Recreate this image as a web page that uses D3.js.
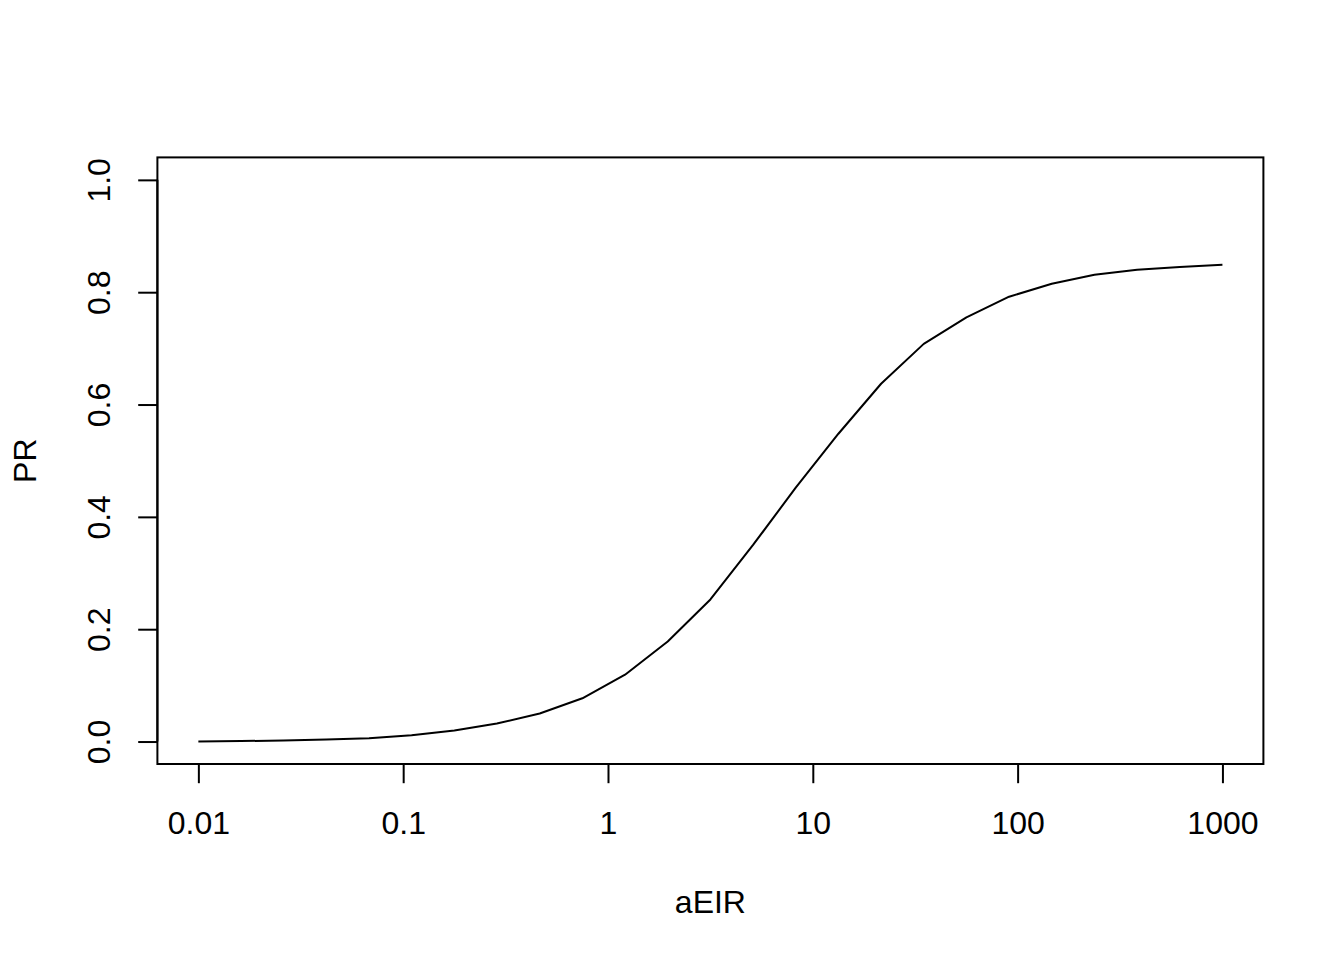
<!DOCTYPE html>
<html>
<head>
<meta charset="utf-8">
<script src="https://cdn.jsdelivr.net/npm/d3@7"></script>
<style>
  html, body { margin: 0; padding: 0; background: #fff; }
  svg { display: block; }
  text { font-family: "Liberation Sans", Arial, Helvetica, sans-serif; fill: #000; }
</style>
</head>
<body>
<svg id="chart" width="1344" height="960"></svg>
<script>
// aEIR values: 25 points evenly spaced on log scale from 0.01 to 1000
const aEIR = [
  0.01, 0.01613, 0.02601, 0.04217, 0.06813, 0.1099, 0.1778, 0.2868, 0.4642,
  0.7499, 1.2115, 1.9573, 3.1623, 5.1090, 8.2540, 13.335, 21.544, 34.807,
  56.234, 90.851, 146.78, 237.14, 383.12, 618.97, 1000
];
const PR = [
  0.000, 0.0008, 0.002, 0.0035, 0.006, 0.011, 0.0196, 0.032, 0.050,
  0.077, 0.119, 0.178, 0.253, 0.350, 0.452, 0.548, 0.637, 0.708,
  0.755, 0.792, 0.815, 0.831, 0.840, 0.845, 0.849
];
const xTicks = [0.01, 0.1, 1, 10, 100, 1000];
const xTickLabels = ["0.01", "0.1", "1", "10", "100", "1000"];
const yTicks = [0.0, 0.2, 0.4, 0.6, 0.8, 1.0];
const yTickLabels = ["0.0", "0.2", "0.4", "0.6", "0.8", "1.0"];

const svg = d3.select("#chart");
const mLeft = 157.4, mRight = 1263.4, mTop = 157.4, mBottom = 764;

const x = d3.scaleLog().domain([Math.pow(10, -2.2), Math.pow(10, 3.2)]).range([mLeft, mRight]);
const y = d3.scaleLinear().domain([-0.04, 1.04]).range([mBottom, mTop]);

const lw = 2;
const fs = 32;
const tick = 19.2;

// box
svg.append("rect")
  .attr("x", mLeft).attr("y", mTop)
  .attr("width", mRight - mLeft).attr("height", mBottom - mTop)
  .attr("fill", "none").attr("stroke", "#000").attr("stroke-width", lw);

// x axis
const xAxis = d3.axisBottom(x)
  .tickValues(xTicks)
  .tickFormat((d, i) => xTickLabels[i])
  .tickSize(tick);
const gx = svg.append("g").attr("transform", `translate(0,${mBottom})`).call(xAxis);
gx.select(".domain").attr("d", `M${x(xTicks[0])},0H${x(xTicks[xTicks.length-1])}`)
  .attr("stroke", "#000").attr("stroke-width", lw);
gx.selectAll(".tick line").attr("stroke", "#000").attr("stroke-width", lw);
gx.selectAll(".tick text")
  .attr("font-size", fs).attr("font-family", "Liberation Sans, Arial, sans-serif")
  .attr("fill", "#000")
  .attr("dy", null)
  .attr("y", 59)
  .attr("dominant-baseline", "central");

// y axis
const yAxis = d3.axisLeft(y)
  .tickValues(yTicks)
  .tickFormat((d, i) => yTickLabels[i])
  .tickSize(tick)
  .tickPadding(0);
const gy = svg.append("g").attr("transform", `translate(${mLeft},0)`).call(yAxis);
gy.select(".domain").attr("d", `M0,${y(yTicks[0])}V${y(yTicks[yTicks.length-1])}`)
  .attr("stroke", "#000").attr("stroke-width", lw);
gy.selectAll(".tick line").attr("stroke", "#000").attr("stroke-width", lw);
gy.selectAll(".tick text")
  .attr("font-size", fs).attr("font-family", "Liberation Sans, Arial, sans-serif")
  .attr("fill", "#000")
  .attr("x", 0).attr("dy", null).attr("y", 0)
  .attr("text-anchor", "middle")
  .attr("dominant-baseline", "central")
  .attr("transform", "translate(-58,0) rotate(-90)");

// line
const line = d3.line().x((d, i) => x(aEIR[i])).y(d => y(d));
svg.append("path")
  .datum(PR)
  .attr("d", line)
  .attr("fill", "none")
  .attr("stroke", "#000")
  .attr("stroke-width", lw)
  .attr("stroke-linejoin", "round");

// axis titles
svg.append("text")
  .attr("x", (mLeft + mRight) / 2).attr("y", 902)
  .attr("text-anchor", "middle").attr("dominant-baseline", "central")
  .attr("font-size", fs).text("aEIR");
svg.append("text")
  .attr("transform", `translate(25,${(mTop + mBottom) / 2}) rotate(-90)`)
  .attr("text-anchor", "middle").attr("dominant-baseline", "central")
  .attr("font-size", fs).text("PR");
</script>
</body>
</html>
